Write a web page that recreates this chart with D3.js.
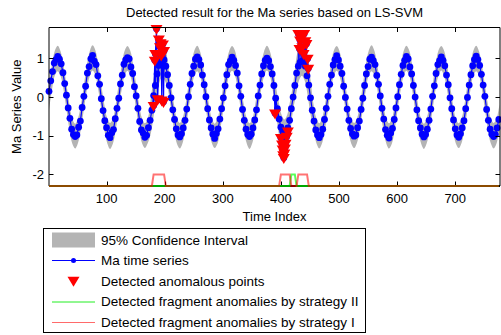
<!DOCTYPE html>
<html><head><meta charset="utf-8">
<script src="https://cdn.jsdelivr.net/npm/d3@7"></script>
<style>body{margin:0;background:#fff} text{font-family:"Liberation Sans",Arial,Helvetica,sans-serif;fill:#000}</style>
</head><body><svg id="c" width="501" height="335"></svg>
<script>
// Ma series, read every 3rd time index starting at 1
const seriesStart = 1, seriesStep = 3;
const seriesValues = [
0.15,0.42,0.66,0.88,0.97,1.05,0.98,0.86,0.63,0.35,0.05,-0.28,-0.55,-0.83,-0.97,-1.02,-0.98,-0.78,-0.62,-0.27,
0.02,0.28,0.62,0.79,0.99,1.08,0.93,0.84,0.55,0.33,-0.04,-0.35,-0.61,-0.79,-0.99,-1.05,-0.92,-0.84,-0.56,-0.29,
-0.03,0.34,0.57,0.85,0.96,1.02,0.99,0.78,0.61,0.27,0.03,-0.29,-0.63,-0.85,-0.93,-1.04,-0.99,-0.79,-0.60,-0.34,
0.04,0.30,0.60,0.82,0.94,1.06,0.96,0.80,0.58,0.30,-0.02,-0.33,-0.58,-0.82,-0.98,-1.03,-0.95,-0.80,-0.60,-0.31,
0.01,0.33,0.61,0.80,0.98,1.04,0.97,0.83,0.57,0.32,0.01,-0.30,-0.59,-0.80,-0.96,-1.07,-0.94,-0.82,-0.57,-0.30,
-0.02,0.29,0.58,0.84,0.93,1.03,0.95,0.82,0.62,0.29,0.02,-0.32,-0.60,-0.83,-0.97,-1.02,-0.96,-0.80,-0.59,-0.33,
0.03,0.31,0.60,0.81,0.95,1.01,0.94,0.79,0.60,0.30,-0.03,-0.30,-0.57,-0.78,-0.88,-0.92,-0.90,-0.80,-0.60,-0.30,
0.00,0.30,0.62,0.80,0.90,0.93,0.90,0.80,0.55,0.31,-0.02,-0.34,-0.62,-0.85,-0.98,-1.05,-0.97,-0.83,-0.58,-0.29,
0.02,0.33,0.57,0.83,0.97,1.07,0.96,0.80,0.61,0.28,-0.01,-0.31,-0.60,-0.81,-0.95,-1.01,-0.98,-0.79,-0.62,-0.32,
-0.03,0.30,0.60,0.79,0.98,1.03,0.94,0.84,0.56,0.33,0.03,-0.29,-0.57,-0.84,-0.99,-1.06,-0.93,-0.81,-0.58,-0.28,
0.01,0.32,0.59,0.82,0.95,1.05,0.99,0.78,0.60,0.30,0.00,-0.33,-0.61,-0.80,-0.96,-1.03,-0.97,-0.83,-0.60,-0.31,
0.02,0.29,0.61,0.84,0.94,1.04,0.95,0.81,0.57,0.32,-0.02,-0.30,-0.59,-0.82,-0.98,-1.04,-0.95,-0.80,-0.61,-0.30,
-0.01,0.31,0.58,0.81,0.97,1.06,0.97,0.82,0.59,0.31,0.02,-0.32,-0.60,-0.83,-0.96,-1.02,-0.97,-0.80,-0.58
];
// 95% confidence interval, read every 5th time index starting at 1
const bandStart = 1, bandStep = 5;
const bandUpper = [
0.30,0.83,1.20,1.33,1.18,0.81,0.33,-0.17,-0.56,-0.69,-0.54,-0.19,
0.31,0.82,1.18,1.34,1.20,0.83,0.31,-0.18,-0.54,-0.67,-0.56,-0.17,
0.33,0.81,1.19,1.32,1.19,0.82,0.32,-0.19,-0.55,-0.68,-0.55,-0.05,
0.50,0.98,1.35,1.48,1.33,0.83,0.31,-0.18,-0.56,-0.67,-0.54,-0.18,
0.32,0.82,1.20,1.33,1.18,0.81,0.33,-0.17,-0.55,-0.69,-0.55,-0.19,
0.31,0.83,1.19,1.32,1.20,0.82,0.32,-0.18,-0.54,-0.68,-0.56,-0.17,
0.32,0.81,1.18,1.33,1.19,0.83,0.31,-0.10,-0.45,-0.58,-0.45,-0.08,
0.33,0.95,1.32,1.45,1.32,0.97,0.45,-0.18,-0.55,-0.68,-0.54,-0.18,
0.31,0.82,1.20,1.32,1.18,0.82,0.32,-0.17,-0.56,-0.67,-0.55,-0.19,
0.32,0.83,1.19,1.34,1.19,0.81,0.33,-0.18,-0.54,-0.68,-0.56,-0.18,
0.30,0.82,1.18,1.33,1.20,0.83,0.31,-0.19,-0.55,-0.69,-0.54,-0.17,
0.32,0.81,1.20,1.32,1.19,0.82,0.32,-0.18,-0.56,-0.68,-0.55,-0.18,
0.33,0.83,1.19,1.33,1.18,0.81,0.32,-0.17,-0.55,-0.67,-0.56,-0.19
];
const bandLower = [
-0.34,0.17,0.56,0.67,0.54,0.19,-0.31,-0.83,-1.20,-1.33,-1.18,-0.81,
-0.32,0.18,0.54,0.69,0.56,0.17,-0.33,-0.82,-1.18,-1.34,-1.20,-0.83,
-0.31,0.19,0.55,0.68,0.55,0.18,-0.32,-0.81,-1.19,-1.32,-1.19,-0.95,
-0.50,0.00,0.38,0.52,0.40,0.17,-0.33,-0.82,-1.20,-1.33,-1.18,-0.82,
-0.32,0.18,0.55,0.67,0.54,0.19,-0.31,-0.83,-1.18,-1.32,-1.20,-0.81,
-0.33,0.17,0.56,0.68,0.56,0.18,-0.32,-0.82,-1.19,-1.34,-1.18,-0.83,
-0.31,0.19,0.54,0.69,0.55,0.17,-0.33,-0.92,-1.30,-1.42,-1.30,-0.92,
-0.32,0.05,0.42,0.55,0.42,0.05,-0.45,-0.82,-1.19,-1.33,-1.19,-0.82,
-0.33,0.18,0.55,0.68,0.54,0.18,-0.31,-0.83,-1.20,-1.32,-1.18,-0.81,
-0.32,0.17,0.56,0.67,0.56,0.19,-0.32,-0.82,-1.18,-1.33,-1.20,-0.82,
-0.31,0.18,0.54,0.68,0.55,0.17,-0.33,-0.81,-1.19,-1.34,-1.19,-0.83,
-0.33,0.19,0.55,0.69,0.54,0.18,-0.32,-0.82,-1.20,-1.32,-1.18,-0.82,
-0.32,0.18,0.56,0.67,0.56,0.19,-0.31,-0.83,-1.19,-1.33,-1.20,-0.81
];
// detected anomalous points
const anomalyIndex = [181,183,184,186,188,190,192,193,194,195,197,198,199,
  390,400,402,403,404,405,406,407,408,410,412,
  430,432,433,435,437,439,440,442,444,446,447];
const anomalyValue = [-0.22,0.95,1.12,1.77,-0.05,1.50,1.30,1.40,1.08,-0.08,1.37,-0.12,1.20,
  -0.42,-1.05,-1.22,-1.35,-1.50,-1.57,-1.45,-1.32,-1.20,-1.02,-0.88,
  1.64,1.25,1.47,1.58,1.30,1.12,1.64,1.45,1.38,1.00,0.74];
// fragment anomalies [start, end]
const fragmentsI = [[180,200],[399,416],[430,447]];
const fragmentsII = [[416,426]];
const fragmentBase = -2.3, fragmentHigh = -2;
const xTicks = [100,200,300,400,500,600,700];
const yTicks = [-2,-1,0,1];
const xDomain = [1,777], yDomain = [-2.3,1.8];
const legendLabels = ["95% Confidence Interval","Ma time series","Detected anomalous points",
  "Detected fragment anomalies by strategy II","Detected fragment anomalies by strategy I"];

const svg = d3.select("#c");
const L=49, R=500, T=27.5, B=186;
const x = d3.scaleLinear().domain(xDomain).range([L,R]);
const y = d3.scaleLinear().domain(yDomain).range([B,T]);

const grey="#b4b4b4", blue="#0000ff", red="#ff0000", green="#00ff00";

// band
const band = bandUpper.map((u,i)=>({t:bandStart+i*bandStep,u,l:bandLower[i]}));
svg.append("path").datum(band)
  .attr("d", d3.area().x(d=>x(d.t)).y0(d=>y(d.l)).y1(d=>y(d.u)).curve(d3.curveCatmullRom))
  .attr("fill", grey);

// series merged with anomalies
const series = seriesValues.map((v,i)=>({t:seriesStart+i*seriesStep,v}));
const anomalies = anomalyIndex.map((t,i)=>({t,v:anomalyValue[i]}));
const merged = series.concat(anomalies).sort((a,b)=>a.t-b.t);
svg.append("path").datum(merged)
  .attr("d", d3.line().x(d=>x(d.t)).y(d=>y(d.v)))
  .attr("fill","none").attr("stroke",blue).attr("stroke-width",1.2);
svg.append("g").selectAll("circle").data(merged).join("circle")
  .attr("cx",d=>x(d.t)).attr("cy",d=>y(d.v)).attr("r",3.4).attr("fill",blue);

// anomaly triangles
const tri = "M-6,-3.7L6,-3.7L0,6.2Z";
svg.append("g").selectAll("path").data(anomalies).join("path")
  .attr("d",tri).attr("transform",d=>`translate(${x(d.t)},${y(d.v)})`).attr("fill",red);

// axes frame & ticks
const ax = svg.append("g").attr("stroke","#000").attr("fill","none");
ax.append("line").attr("x1",L).attr("x2",R).attr("y1",T).attr("y2",T).attr("stroke-width",1);
ax.append("line").attr("x1",L).attr("x2",L).attr("y1",T).attr("y2",B).attr("stroke-width",1);
ax.append("line").attr("x1",R).attr("x2",R).attr("y1",T).attr("y2",B).attr("stroke-width",1);
ax.append("line").attr("x1",L).attr("x2",R).attr("y1",B).attr("y2",B).attr("stroke-width",2);
const tl=4.5;
xTicks.forEach(v=>{
  const px=Math.round(x(v))+0.5;
  ax.append("line").attr("x1",px).attr("x2",px).attr("y1",B).attr("y2",B-tl);
  ax.append("line").attr("x1",px).attr("x2",px).attr("y1",T).attr("y2",T+tl);
});
yTicks.forEach(v=>{
  const py=Math.round(y(v))+0.5;
  ax.append("line").attr("x1",L).attr("x2",L+tl).attr("y1",py).attr("y2",py);
  ax.append("line").attr("x1",R).attr("x2",R-tl).attr("y1",py).attr("y2",py);
});

// fragment lines sampled on series grid
function fragSignal(frags){
  return seriesValues.map((_,i)=>{
    const t=seriesStart+i*seriesStep;
    const inside=frags.some(f=>t>=f[0]&&t<=f[1]);
    return {t, v: inside?fragmentHigh:fragmentBase};
  });
}
const fl = d3.line().x(d=>x(d.t)).y(d=>y(d.v));
svg.append("path").datum(fragSignal(fragmentsII)).attr("d",fl)
  .attr("fill","none").attr("stroke",green).attr("stroke-opacity",0.65).attr("stroke-width",2);
svg.append("path").datum(fragSignal(fragmentsI)).attr("d",fl)
  .attr("fill","none").attr("stroke",red).attr("stroke-opacity",0.55).attr("stroke-width",2);

// tick labels
const fs=13;
xTicks.forEach(v=>svg.append("text").attr("x",x(v)).attr("y",203).attr("text-anchor","middle")
  .attr("font-size",fs).text(v));
yTicks.forEach(v=>svg.append("text").attr("x",44).attr("y",y(v)).attr("dy","0.36em")
  .attr("text-anchor","end").attr("font-size",fs).text(v));

svg.append("text").attr("x",(L+R)/2).attr("y",17).attr("text-anchor","middle").attr("font-size",fs)
  .text("Detected result for the Ma series based on LS-SVM");
svg.append("text").attr("x",(L+R)/2).attr("y",221).attr("text-anchor","middle").attr("font-size",fs)
  .text("Time Index");
svg.append("text").attr("transform",`translate(21,${(T+B)/2}) rotate(-90)`).attr("text-anchor","middle")
  .attr("font-size",fs).text("Ma Series Value");

// legend
const lg = svg.append("g");
const box = lg.append("rect").attr("x",43.5).attr("y",228.5).attr("height",104)
  .attr("fill","#fff").attr("stroke","#000");
const rows=[240,260.5,281,301.5,322];
const lx0=52, lx1=95;
lg.append("rect").attr("x",lx0).attr("y",rows[0]-7.5).attr("width",lx1-lx0).attr("height",15).attr("fill",grey);
lg.append("line").attr("x1",lx0).attr("x2",lx1).attr("y1",rows[1]).attr("y2",rows[1]).attr("stroke",blue);
lg.append("circle").attr("cx",(lx0+lx1)/2).attr("cy",rows[1]).attr("r",2.5).attr("fill",blue);
lg.append("path").attr("d",tri).attr("transform",`translate(${(lx0+lx1)/2},${rows[2]-0.5})`).attr("fill",red);
lg.append("line").attr("x1",lx0).attr("x2",lx1).attr("y1",rows[3]+0.5).attr("y2",rows[3]+0.5)
  .attr("stroke","#22ee22").attr("stroke-width",1);
lg.append("line").attr("x1",lx0).attr("x2",lx1).attr("y1",rows[4]+0.5).attr("y2",rows[4]+0.5)
  .attr("stroke","#ff6a6a").attr("stroke-width",1);
let maxEnd=0;
legendLabels.forEach((s,i)=>{
  const t=lg.append("text").attr("x",101).attr("y",rows[i]).attr("dy","0.36em")
    .attr("font-size",13.5).text(s);
  maxEnd=Math.max(maxEnd,101+t.node().getComputedTextLength());
});
box.attr("width",Math.round(maxEnd+7)-43.5+0.5);
</script></body></html>
